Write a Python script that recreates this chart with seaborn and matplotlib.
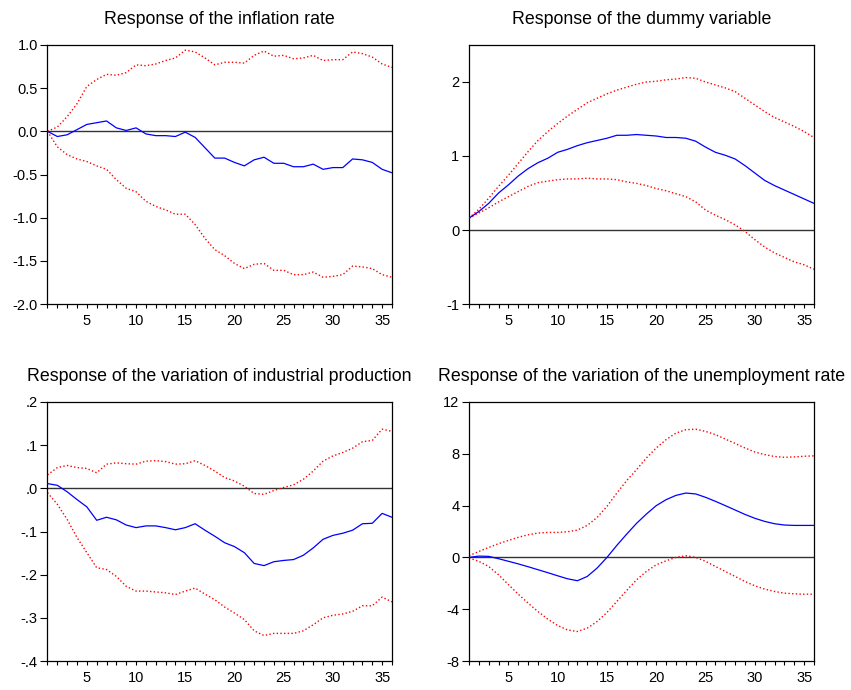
import numpy as np
import pandas as pd
import matplotlib
matplotlib.use("Agg")
import matplotlib.pyplot as plt
import seaborn as sns

horizon = list(range(1, 37))

titles = ["Response of the inflation rate",
          "Response of the dummy variable",
          "Response of the variation of industrial production",
          "Response of the variation of the unemployment rate"]

# Panel 1: inflation rate
infl_mid = [0.00, -0.06, -0.04, 0.02, 0.08, 0.10, 0.12, 0.04, 0.01, 0.04, -0.03, -0.05,
            -0.05, -0.06, -0.01, -0.07, -0.19, -0.31, -0.31, -0.36, -0.40, -0.33, -0.30, -0.37,
            -0.37, -0.41, -0.41, -0.38, -0.44, -0.42, -0.42, -0.32, -0.33, -0.36, -0.44, -0.48]
infl_up = [0.00, 0.05, 0.17, 0.32, 0.52, 0.60, 0.66, 0.65, 0.68, 0.77, 0.76, 0.78,
           0.82, 0.85, 0.94, 0.92, 0.85, 0.77, 0.80, 0.80, 0.79, 0.88, 0.93, 0.87,
           0.88, 0.84, 0.85, 0.88, 0.82, 0.83, 0.83, 0.92, 0.90, 0.86, 0.78, 0.74]
infl_lo = [0.00, -0.18, -0.27, -0.32, -0.35, -0.40, -0.44, -0.56, -0.66, -0.70, -0.81, -0.87,
           -0.91, -0.96, -0.96, -1.08, -1.24, -1.37, -1.44, -1.53, -1.59, -1.54, -1.53, -1.61,
           -1.61, -1.66, -1.66, -1.63, -1.69, -1.68, -1.66, -1.56, -1.57, -1.59, -1.66, -1.69]

# Panel 2: dummy variable
dum_mid = [0.16, 0.25, 0.36, 0.50, 0.61, 0.73, 0.83, 0.91, 0.97, 1.05, 1.09, 1.14,
           1.18, 1.21, 1.24, 1.28, 1.28, 1.29, 1.28, 1.27, 1.25, 1.25, 1.24, 1.20,
           1.12, 1.05, 1.01, 0.96, 0.87, 0.77, 0.67, 0.60, 0.54, 0.48, 0.42, 0.36]
dum_up = [0.16, 0.28, 0.43, 0.59, 0.74, 0.90, 1.06, 1.21, 1.33, 1.44, 1.54, 1.63,
          1.72, 1.78, 1.84, 1.89, 1.93, 1.97, 2.00, 2.01, 2.03, 2.04, 2.06, 2.05,
          2.00, 1.96, 1.92, 1.87, 1.78, 1.69, 1.60, 1.52, 1.46, 1.40, 1.33, 1.25]
dum_lo = [0.16, 0.23, 0.30, 0.38, 0.45, 0.52, 0.59, 0.64, 0.66, 0.68, 0.69, 0.69,
          0.70, 0.69, 0.69, 0.68, 0.65, 0.63, 0.60, 0.56, 0.53, 0.49, 0.45, 0.38,
          0.27, 0.20, 0.14, 0.07, -0.02, -0.13, -0.23, -0.31, -0.37, -0.43, -0.47, -0.53]

# Panel 3: variation of industrial production
ind_mid = [0.011, 0.007, -0.008, -0.026, -0.043, -0.074, -0.067, -0.073, -0.085, -0.091, -0.087, -0.087,
           -0.091, -0.096, -0.091, -0.082, -0.097, -0.111, -0.126, -0.135, -0.149, -0.174, -0.179, -0.170,
           -0.167, -0.165, -0.155, -0.138, -0.118, -0.109, -0.104, -0.097, -0.082, -0.081, -0.058, -0.067]
ind_up = [0.031, 0.048, 0.053, 0.048, 0.046, 0.036, 0.056, 0.059, 0.057, 0.056, 0.063, 0.064,
          0.062, 0.056, 0.057, 0.064, 0.053, 0.040, 0.025, 0.017, 0.005, -0.012, -0.014, -0.005,
          0.002, 0.008, 0.021, 0.040, 0.063, 0.075, 0.083, 0.093, 0.108, 0.111, 0.137, 0.132]
ind_lo = [-0.010, -0.037, -0.072, -0.114, -0.149, -0.184, -0.188, -0.204, -0.227, -0.238, -0.238, -0.240,
          -0.242, -0.246, -0.238, -0.231, -0.245, -0.258, -0.275, -0.289, -0.304, -0.330, -0.341, -0.336,
          -0.336, -0.336, -0.330, -0.316, -0.300, -0.294, -0.291, -0.285, -0.272, -0.272, -0.252, -0.263]

# Panel 4: variation of the unemployment rate
unemp_mid = [0.00, 0.10, 0.08, -0.10, -0.30, -0.50, -0.72, -0.95, -1.18, -1.42, -1.65, -1.80,
             -1.47, -0.82, 0.00, 0.93, 1.80, 2.63, 3.35, 4.00, 4.46, 4.79, 4.97, 4.90,
             4.64, 4.33, 4.00, 3.66, 3.32, 3.02, 2.78, 2.60, 2.50, 2.47, 2.47, 2.47]
unemp_up = [0.13, 0.46, 0.77, 1.06, 1.31, 1.55, 1.75, 1.88, 1.93, 1.93, 1.98, 2.11,
            2.47, 3.09, 3.94, 4.97, 5.93, 6.78, 7.68, 8.45, 9.10, 9.60, 9.86, 9.90,
            9.73, 9.48, 9.14, 8.80, 8.45, 8.14, 7.94, 7.79, 7.73, 7.76, 7.81, 7.84]
unemp_lo = [-0.05, -0.30, -0.70, -1.34, -2.10, -2.84, -3.53, -4.18, -4.77, -5.26, -5.60, -5.72,
            -5.46, -4.95, -4.25, -3.40, -2.55, -1.73, -1.08, -0.57, -0.26, 0.00, 0.13, 0.00,
            -0.30, -0.70, -1.08, -1.47, -1.86, -2.19, -2.45, -2.63, -2.76, -2.81, -2.84, -2.84]

x_ticks = [5, 10, 15, 20, 25, 30, 35]
x_tick_labels = ["5", "10", "15", "20", "25", "30", "35"]

y_ticks_1 = [-2.0, -1.5, -1.0, -0.5, 0.0, 0.5, 1.0]
y_labels_1 = ["-2.0", "-1.5", "-1.0", "-0.5", "0.0", "0.5", "1.0"]
y_ticks_2 = [-1, 0, 1, 2]
y_labels_2 = ["-1", "0", "1", "2"]
y_ticks_3 = [-0.4, -0.3, -0.2, -0.1, 0.0, 0.1, 0.2]
y_labels_3 = ["-.4", "-.3", "-.2", "-.1", ".0", ".1", ".2"]
y_ticks_4 = [-8, -4, 0, 4, 8, 12]
y_labels_4 = ["-8", "-4", "0", "4", "8", "12"]

panels = [
    (infl_mid, infl_up, infl_lo, (-2.0, 1.0), y_ticks_1, y_labels_1),
    (dum_mid, dum_up, dum_lo, (-1.0, 2.5), y_ticks_2, y_labels_2),
    (ind_mid, ind_up, ind_lo, (-0.4, 0.2), y_ticks_3, y_labels_3),
    (unemp_mid, unemp_up, unemp_lo, (-8, 12), y_ticks_4, y_labels_4),
]

sns.set_style("ticks")
plt.rcParams['font.family'] = ['Liberation Sans', 'DejaVu Sans']

fig = plt.figure(figsize=(8.51, 6.90), dpi=100)
positions = [
    [0.0558, 0.5594, 0.4048, 0.3754],
    [0.5511, 0.5594, 0.4054, 0.3754],
    [0.0558, 0.0420, 0.4048, 0.3754],
    [0.5511, 0.0420, 0.4054, 0.3754],
]

for pos, title, (mid, up, lo, ylim, yt, ytl) in zip(positions, titles, panels):
    ax = fig.add_axes(pos)
    df = pd.DataFrame({"h": horizon, "mid": mid, "up": up, "lo": lo})
    ax.axhline(0, color="#333333", lw=1.0, zorder=1)
    sns.lineplot(data=df, x="h", y="up", ax=ax, color="red", lw=1.0, linestyle=":", zorder=2)
    sns.lineplot(data=df, x="h", y="lo", ax=ax, color="red", lw=1.0, linestyle=":", zorder=2)
    sns.lineplot(data=df, x="h", y="mid", ax=ax, color="blue", lw=0.9, zorder=3)
    ax.set_xlim(1, 36)
    ax.set_ylim(*ylim)
    ax.set_xticks(x_ticks)
    ax.set_xticklabels(x_tick_labels)
    ax.set_xticks(horizon, minor=True)
    ax.set_yticks(yt)
    ax.set_yticklabels(ytl)
    ax.set_xlabel("")
    ax.set_ylabel("")
    ax.set_title(title, fontsize=12.8, pad=15, color="black")
    ax.tick_params(axis="both", which="both", direction="out", width=0.8,
                   labelsize=10.5, colors="black", top=False, right=False)
    ax.tick_params(axis="y", which="major", length=5, pad=2)
    ax.tick_params(axis="x", which="both", length=3, pad=4)
    for s in ax.spines.values():
        s.set_visible(True)
        s.set_linewidth(0.9)
        s.set_color("black")

fig.savefig("out.png", dpi=100)
